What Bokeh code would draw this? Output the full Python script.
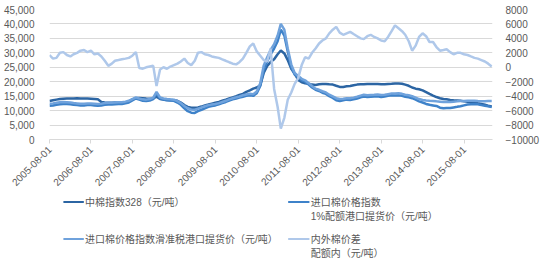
import math
from datetime import datetime
import pandas as pd
from bokeh.plotting import figure
from bokeh.models import (Range1d, LinearAxis, FixedTicker, NumeralTickFormatter,
                          ColumnDataSource, DatetimeTickFormatter)
from bokeh.layouts import column
from bokeh.core.properties import value
from bokeh.embed import file_html
from bokeh.resources import INLINE

# ---------------- data (monthly, 2005-08 .. 2016-04) ----------------
months = pd.date_range("2005-08-01", "2016-04-01", freq="MS")

cc328 = [13300, 13600, 13800, 14000, 14100, 14200, 14200, 14200, 14300, 14200,
         14200, 14200, 14100, 14000, 13900, 13000, 12800, 12700, 12700, 12800,
         12700, 12600, 12700, 13200, 13900, 14300, 14400, 14300, 14200, 14100,
         14200, 14800, 14000, 13800, 13700, 13600, 13600, 13400, 12800, 11900,
         11300, 11000, 11000, 11100, 11400, 11800, 12100, 12400, 12700, 13000,
         13400, 13800, 14200, 14600, 15000, 15400, 15800, 16500, 17000, 17600,
         18000, 18800, 23000, 25500, 26800, 27800, 29500, 30800, 29800, 27500,
         24500, 22800, 20600, 19800, 19500, 19300, 19000, 18900, 19100, 19200,
         19200, 19100, 19000, 18600, 18200, 18200, 18400, 18500, 18800, 19000,
         19100, 19100, 19200, 19200, 19200, 19200, 19100, 19100, 19200, 19300,
         19400, 19400, 19300, 19000, 18600, 18000, 17600, 17400, 17000, 16400,
         15800, 15200, 14700, 14300, 14000, 13900, 13700, 13600, 13500, 13400,
         13200, 13100, 13000, 12900, 12600, 12300, 12000, 11700, 11400]

imp_1pct = [11700, 11800, 12000, 12200, 12300, 12300, 12200, 12000, 11900, 11800,
            11800, 11900, 11900, 11800, 11700, 11800, 12000, 12100, 12100, 12200,
            12300, 12300, 12500, 12800, 13500, 14200, 13800, 13400, 13300, 13500,
            14000, 16000, 14200, 13800, 13600, 13500, 13400, 12800, 12000, 10800,
            9800, 9300, 9200, 9800, 10300, 10800, 11300, 11600, 11800, 12200,
            12600, 13000, 13500, 13900, 14200, 14500, 14800, 15100, 15300, 15100,
            16000, 18500, 24000, 27000, 29500, 31500, 34000, 38000, 36000, 30500,
            25000, 22500, 21500, 20500, 20000, 19000, 18000, 17200, 16800, 16200,
            15800, 15000, 14400, 13600, 13300, 13600, 13800, 13700, 13900, 14200,
            14600, 14900, 14700, 14800, 14900, 15000, 14700, 14900, 15100, 15300,
            15200, 15300, 15100, 14800, 14600, 14300, 13800, 13200, 12800, 12300,
            12000, 11800, 11600, 11000, 10800, 10900, 10900, 11100, 11300, 11500,
            11800, 12100, 12200, 12300, 12200, 11900, 11700, 11500, 11200]

imp_sliding = [12400, 12500, 12700, 12900, 13000, 12900, 12800, 12600, 12500, 12400,
               12400, 12500, 12500, 12400, 12300, 12400, 12600, 12700, 12700, 12800,
               12900, 12900, 13100, 13400, 14000, 14600, 14200, 13900, 13800, 14000,
               14500, 16500, 14600, 14200, 14000, 13900, 13800, 13300, 12600, 11600,
               10800, 10400, 10300, 10700, 11100, 11500, 11900, 12100, 12300, 12600,
               13000, 13400, 13900, 14300, 14600, 14900, 15300, 15600, 15800, 15700,
               16600, 19500, 25500, 28500, 31000, 33000, 36000, 40000, 38000, 31500,
               26000, 23000, 22000, 21000, 20500, 19500, 18500, 17600, 17200, 16700,
               16300, 15500, 14900, 14300, 14000, 14100, 14300, 14300, 14500, 14800,
               15200, 15500, 15300, 15400, 15500, 15600, 15400, 15500, 15700, 15900,
               15900, 16000, 15800, 15500, 15300, 15000, 14500, 14000, 13700, 13500,
               13400, 13300, 13200, 13100, 13000, 13000, 13000, 13100, 13200, 13300,
               13300, 13400, 13400, 13400, 13300, 13200, 13200, 13300, 13300]

spread = [1700, 1200, 1300, 2000, 2100, 1700, 1500, 1800, 2000, 2300,
          2400, 2100, 2300, 1800, 1900, 1500, 900, 200, 500, 900,
          1000, 1100, 1200, 1300, 1600, 2100, -100, -200, 0, 100,
          200, -2600, -300, 0, -200, 100, 300, 500, 800, 1200,
          600, 300, 900, 2000, 2100, 1800, 1700, 1500, 1400, 1300,
          1100, 900, 700, 500, 400, 700, 1200, 2000, 2900, 3300,
          2200, 1600, 1000, 800, 2600, -3000, -5500, -8500, -7000, -4500,
          -3500, -2300, -1500, 300, 1400, 1200, 2000, 2600, 3300, 3700,
          4000, 4700, 5200, 5600, 4800, 4500, 4700, 4900, 4600, 4300,
          4000, 3900, 4300, 4500, 4200, 4000, 3700, 3600, 4200, 5000,
          5800, 5400, 5000, 4500, 3600, 2300, 3000, 4200, 4700, 4300,
          3500, 3500, 2800, 2300, 2400, 2500, 2100, 1800, 2000, 2000,
          1800, 1700, 1500, 1300, 1200, 1000, 800, 500, 100]

xtick_labels = ["2005-08-01", "2006-08-01", "2007-08-01", "2008-08-01", "2009-08-01",
                "2010-08-01", "2011-08-01", "2012-08-01", "2013-08-01", "2014-08-01",
                "2015-08-01"]
left_ticks = [0, 5000, 10000, 15000, 20000, 25000, 30000, 35000, 40000, 45000]
right_ticks = [-10000, -8000, -6000, -4000, -2000, 0, 2000, 4000, 6000, 8000]

series_names = ["中棉指数328（元/吨）",
                "进口棉价格指数\n1%配额港口提货价（元/吨）",
                "进口棉价格指数滑准税港口提货价（元/吨）",
                "内外棉价差\n配额内（元/吨）"]
colors = ["#2C65A3", "#3E82C9", "#6FA2DC", "#AFC8EA"]

# ---------------- main chart ----------------
FONT = "Liberation Sans, Noto Sans CJK SC"
TXT = "#595959"
GRID = "#D9D9D9"
LW = 2.5

src = ColumnDataSource(dict(date=months, cc328=cc328, imp_1pct=imp_1pct,
                            imp_sliding=imp_sliding, spread=spread))

p = figure(width=542, height=192, x_axis_type="datetime",
           x_range=Range1d(datetime(2005, 8, 1), datetime(2016, 4, 8)),
           y_range=Range1d(0, 45000), output_backend="svg", toolbar_location=None,
           min_border_left=45, min_border_right=44, min_border_top=9, min_border_bottom=49)
p.extra_y_ranges = {"diff": Range1d(-10000, 8000)}
p.outline_line_color = None
p.background_fill_color = "white"
p.border_fill_color = "white"

p.line("date", "cc328", source=src, color=colors[0], line_width=LW)
p.line("date", "imp_1pct", source=src, color=colors[1], line_width=LW)
p.line("date", "imp_sliding", source=src, color=colors[2], line_width=LW)
p.line("date", "spread", source=src, color=colors[3], line_width=LW, y_range_name="diff")

# x axis
tick_ms = [pd.Timestamp(s).value / 1e6 for s in xtick_labels]
xa = p.xaxis[0]
xa.ticker = FixedTicker(ticks=tick_ms)
xa.formatter = DatetimeTickFormatter(days="%Y-%m-%d", months="%Y-%m-%d", years="%Y-%m-%d")
xa.major_label_overrides = {t: s for t, s in zip(tick_ms, xtick_labels)}
xa.major_label_orientation = math.pi / 4
xa.axis_line_color = GRID
xa.major_tick_line_color = GRID
xa.major_tick_out = 4
xa.major_tick_in = 0
xa.minor_tick_line_color = None
xa.major_label_text_font = FONT
xa.major_label_text_font_size = "10px"
xa.major_label_text_color = TXT
xa.major_label_standoff = 4

# left axis
ya = p.yaxis[0]
ya.ticker = FixedTicker(ticks=left_ticks)
ya.formatter = NumeralTickFormatter(format="0,0")
ya.axis_line_color = None
ya.major_tick_line_color = None
ya.minor_tick_line_color = None
ya.major_label_text_font = FONT
ya.major_label_text_font_size = "10px"
ya.major_label_text_color = TXT
ya.major_label_standoff = 9

# right axis
ra = LinearAxis(y_range_name="diff", ticker=FixedTicker(ticks=right_ticks))
ra.axis_line_color = None
ra.major_tick_line_color = None
ra.minor_tick_line_color = None
ra.major_label_text_font = FONT
ra.major_label_text_font_size = "10px"
ra.major_label_text_color = TXT
ra.major_label_standoff = 7
p.add_layout(ra, "right")

p.xgrid.grid_line_color = None
p.ygrid.ticker = FixedTicker(ticks=left_ticks)
p.ygrid.grid_line_color = GRID
p.ygrid.grid_line_width = 1

# ---------------- legend strip ----------------
leg = figure(width=542, height=69, x_range=Range1d(0, 542), y_range=Range1d(69, 0),
             output_backend="svg", toolbar_location=None,
             min_border=0, min_border_left=0, min_border_right=0,
             min_border_top=0, min_border_bottom=0)
leg.axis.visible = False
leg.grid.visible = False
leg.outline_line_color = None

mx0 = [17, 292, 17, 292]
mx1 = [42, 318, 42, 318]
my = [9.5, 9.5, 46.5, 46.5]
for i in range(4):
    leg.line([mx0[i], mx1[i]], [my[i], my[i]], color=colors[i], line_width=2.2)

tx, ty, tt = [], [], []
for i, name in enumerate(series_names):
    for j, line in enumerate(name.split("\n")):
        tx.append(mx1[i] + 1.5)
        ty.append(my[i] + 14.5 * j)
        tt.append(line)
leg.text(x=tx, y=ty, text=tt, text_font=value(FONT), text_font_size="10px",
         text_color=TXT, text_baseline="middle", text_align="left")

layout = column(p, leg, spacing=0)
open("out.html", "w").write(file_html(layout, INLINE))
